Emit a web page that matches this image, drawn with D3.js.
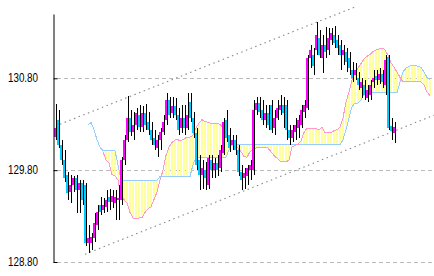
<!DOCTYPE html>
<html><head><meta charset="utf-8">
<script src="https://cdn.jsdelivr.net/npm/d3@7/dist/d3.min.js"></script>
<style>body{margin:0;background:#fff}svg{display:block}</style>
</head><body><svg id="c" width="434" height="276"></svg>
<script>
// Candle data (USD/JPY style), one entry per period
const open  = [130.16,130.35,130.07,129.91,129.75,129.56,129.64,129.71,129.58,129.66,
129.64,129.01,129.01,129.06,129.20,129.42,129.37,129.40,129.51,129.45,
129.44,129.48,129.48,129.91,130.13,130.37,130.21,130.29,130.40,130.27,
130.42,130.32,130.24,130.15,130.04,130.13,130.21,130.35,130.56,130.42,
130.50,130.40,130.26,130.37,130.26,130.54,130.37,130.20,129.91,129.75,
129.80,129.64,129.91,129.80,129.88,129.82,129.99,130.35,130.18,130.07,
130.13,130.02,129.78,129.71,129.74,129.80,129.80,130.45,130.53,130.45,
130.35,130.42,130.51,130.26,130.37,130.45,130.51,130.51,130.24,130.15,
130.21,130.26,130.29,130.43,130.48,131.02,131.05,131.11,131.24,131.02,
131.16,131.11,131.22,131.27,131.22,131.16,131.05,131.09,131.02,130.89,
130.84,130.80,130.69,130.73,130.59,130.62,130.76,130.82,130.78,130.85,
130.73,131.03,130.28,130.20];
const high  = [130.52,130.45,130.13,130.02,129.78,129.75,129.74,129.75,129.69,129.69,
129.66,129.20,129.12,129.33,129.42,129.51,129.50,129.58,129.60,129.58,
129.58,129.64,129.94,130.18,130.61,130.45,130.43,130.48,130.51,130.50,
130.52,130.43,130.32,130.24,130.18,130.26,130.40,130.64,130.60,130.60,
130.59,130.48,130.51,130.51,130.64,130.64,130.43,130.26,129.96,129.91,
129.89,129.96,129.96,129.93,129.96,130.07,130.37,130.45,130.26,130.18,
130.18,130.07,129.86,129.82,129.86,129.91,130.56,130.60,130.60,130.56,
130.51,130.51,130.56,130.45,130.56,130.62,130.60,130.56,130.29,130.29,
130.37,130.40,130.51,130.56,131.05,131.16,131.13,131.41,131.33,131.27,
131.36,131.35,131.35,131.37,131.27,131.22,131.16,131.13,131.09,130.98,
130.97,130.87,130.80,130.78,130.73,130.78,130.89,130.89,130.91,130.89,
131.05,131.05,130.37,130.32];
const low   = [130.13,130.04,129.86,129.67,129.48,129.44,129.56,129.33,129.33,129.42,
128.97,128.90,128.93,129.02,129.15,129.31,129.33,129.34,129.37,129.39,
129.26,129.26,129.42,129.86,130.11,130.17,130.13,130.24,130.21,130.21,
130.24,130.18,130.07,130.02,129.94,130.02,130.18,130.29,130.37,130.37,
130.35,130.18,130.20,130.18,130.24,130.32,130.15,129.80,129.58,129.60,
129.58,129.60,129.71,129.71,129.74,129.78,129.96,130.11,130.00,130.02,
129.96,129.74,129.58,129.60,129.64,129.69,129.75,130.40,130.37,130.29,
130.26,130.24,130.20,130.18,130.35,130.40,130.26,130.13,130.07,130.11,
130.13,130.15,130.26,130.37,130.45,130.91,130.84,131.05,131.02,130.86,
131.02,131.05,131.16,131.13,131.05,130.89,130.94,130.87,130.84,130.76,
130.78,130.67,130.59,130.56,130.54,130.56,130.69,130.73,130.74,130.69,
130.62,130.24,130.13,130.10];
const close = [130.26,130.07,129.91,129.71,129.55,129.64,129.71,129.58,129.66,129.48,
129.01,129.06,129.07,129.22,129.34,129.34,129.42,129.48,129.45,129.52,
129.51,129.50,129.91,130.13,130.37,130.21,130.29,130.42,130.27,130.42,
130.29,130.24,130.13,130.07,130.13,130.21,130.32,130.56,130.40,130.50,
130.40,130.24,130.37,130.26,130.40,130.37,130.20,129.86,129.75,129.82,
129.71,129.93,129.80,129.88,129.80,130.02,130.32,130.15,130.04,130.13,
130.02,129.78,129.69,129.77,129.82,129.86,130.45,130.53,130.43,130.35,
130.42,130.29,130.24,130.37,130.48,130.51,130.42,130.24,130.15,130.24,
130.29,130.35,130.45,130.51,131.02,131.11,130.93,131.27,131.05,131.16,
131.09,131.24,131.29,131.18,131.13,131.05,131.11,130.98,130.91,130.80,
130.89,130.73,130.76,130.62,130.67,130.73,130.80,130.78,130.85,130.76,
131.00,130.26,130.23,130.27];

// Ichimoku cloud spans (index of first value given)
const spanAStart = 16;
const spanA = [130.00,129.91,129.88,129.75,129.74,129.69,129.51,129.48,129.44,129.34,
129.28,129.27,129.28,129.28,129.34,129.38,129.40,129.48,129.56,129.69,
129.80,129.96,130.05,130.10,130.13,130.13,130.12,130.14,130.16,130.16,
130.18,130.26,130.31,130.35,130.33,130.32,130.31,130.31,130.31,130.30,
130.26,130.21,130.16,130.11,130.06,130.04,130.00,129.95,129.94,130.00,
130.02,130.04,130.05,130.05,130.05,130.04,130.00,129.96,129.93,129.90,
129.89,129.89,129.91,130.05,130.07,130.08,130.12,130.21,130.26,130.25,
130.25,130.25,130.24,130.27,130.21,130.21,130.21,130.23,130.24,130.27,
130.37,130.54,130.65,130.78,130.87,130.91,130.96,131.01,131.04,131.06,
131.09,131.11,131.12,131.13,131.11,131.05,130.97,130.92,130.87,130.81,
130.76,130.76,130.76,130.77,130.76,130.76,130.76,130.73,130.65,130.61];
const spanBStart = 11;
const spanB = [130.29,130.32,130.24,130.13,130.05,
130.01,130.01,130.01,130.01,130.01,129.86,
129.69,129.69,129.69,129.69,129.69,129.69,129.69,129.69,129.69,129.69,129.69,129.69,129.69,
129.73,129.73,129.73,129.73,129.73,129.73,129.73,129.73,129.73,129.73,129.73,
129.86,
129.94,129.94,129.94,129.94,129.94,129.94,129.94,129.94,129.94,129.94,129.94,
130.02,
130.08,130.08,130.08,130.08,130.08,130.08,130.08,130.08,130.08,130.08,
130.08,130.08,130.08,130.08,130.08,130.08,130.08,130.08,130.08,130.08,
130.08,130.08,130.08,130.08,130.08,130.08,130.08,130.08,130.08,130.08,
130.08,130.08,130.08,130.08,130.08,130.08,130.08,
130.13,130.24,130.37,130.49,130.53,130.53,130.56,130.63,
130.64,130.64,130.64,130.64,130.64,130.64,130.64,130.64,130.64,130.64,130.64,
130.76,130.87,130.91,130.93,130.94,130.94,130.93,130.92,130.87,130.81,130.78];

// Trend channel end points [period index, price]
const upperChannel = [[1.67,130.30],[100.67,131.585]];
const lowerChannel = [[10,128.885],[126.33,130.398]];

const tickValues = [130.80,129.80,128.80];

const svg = d3.select('#c');
const x = d3.scaleLinear().domain([0,113]).range([55,394]);
const y = d3.scaleLinear().domain([128.8,131.5]).range([262,14]);
const fmt = d3.format('.2f');

// gridlines
svg.append('g').selectAll('line').data(tickValues).join('line')
  .attr('x1',57).attr('x2',434)
  .attr('y1',d=>Math.round(y(d))+0.5).attr('y2',d=>Math.round(y(d))+0.5)
  .attr('stroke','#bbbbbb').attr('stroke-dasharray','4,3');

// cloud stripes
const cloud = [];
for (let k = spanAStart; k < spanAStart + spanA.length; k++) {
  const a = spanA[k - spanAStart], b = spanB[k - spanBStart];
  if (a === undefined || b === undefined) continue;
  cloud.push({k, a, b});
}
svg.append('g').attr('shape-rendering','crispEdges').selectAll('rect').data(cloud).join('rect')
  .attr('x',d=>Math.round(x(d.k))-1).attr('width',2)
  .attr('y',d=>Math.round(y(Math.max(d.a,d.b))))
  .attr('height',d=>Math.max(1,Math.round(y(Math.min(d.a,d.b)))-Math.round(y(Math.max(d.a,d.b)))))
  .attr('fill','#ffffa0');

const line = d3.line().x(d=>x(d[0])).y(d=>y(d[1]));
svg.append('path').datum(spanB.map((v,i)=>[i+spanBStart,v]))
  .attr('d',line).attr('fill','none').attr('stroke','#99ccff').attr('stroke-width',1)
  .attr('shape-rendering','crispEdges');
svg.append('path').datum(spanA.map((v,i)=>[i+spanAStart,v]))
  .attr('d',line).attr('fill','none').attr('stroke','#ff99cc').attr('stroke-width',1)
  .attr('shape-rendering','crispEdges');

// channel lines
[upperChannel, lowerChannel].forEach(c => {
  svg.append('path').datum(c).attr('d',line).attr('fill','none')
    .attr('stroke','#888').attr('stroke-width',1.1).attr('stroke-dasharray','1.5,3.5');
});

// candles
const idx = d3.range(open.length);
const cg = svg.append('g').attr('shape-rendering','crispEdges');
cg.selectAll('rect.w').data(idx).join('rect').attr('class','w')
  .attr('x',i=>Math.round(x(i))+1).attr('width',1)
  .attr('y',i=>Math.round(y(high[i])))
  .attr('height',i=>Math.max(1,Math.round(y(low[i]))-Math.round(y(high[i]))))
  .attr('fill','#000');
cg.selectAll('rect.b').data(idx).join('rect').attr('class','b')
  .attr('x',i=>Math.round(x(i))-1).attr('width',2)
  .attr('y',i=>Math.round(y(Math.max(open[i],close[i]))))
  .attr('height',i=>Math.max(1,Math.round(y(Math.min(open[i],close[i])))-Math.round(y(Math.max(open[i],close[i])))))
  .attr('fill',i=>close[i]>=open[i]?'#ff00ff':'#00ccff');

// axis
const ax = d3.axisRight(y).tickValues(tickValues).tickSize(4).tickSizeOuter(0).tickFormat('');
const ag = svg.append('g').attr('transform','translate(53.5,0)').call(ax);
ag.select('.domain').attr('stroke','#000');
ag.selectAll('.tick line').attr('stroke','#000');

svg.append('g').selectAll('text').data(tickValues).join('text')
  .attr('x',38).attr('y',d=>y(d)).attr('text-anchor','end')
  .attr('dominant-baseline','central')
  .attr('font-family','Liberation Sans, Arial, sans-serif').attr('font-size',12)
  .attr('textLength',30).attr('lengthAdjust','spacingAndGlyphs')
  .attr('fill','#000').text(d=>fmt(d));
</script></body></html>
